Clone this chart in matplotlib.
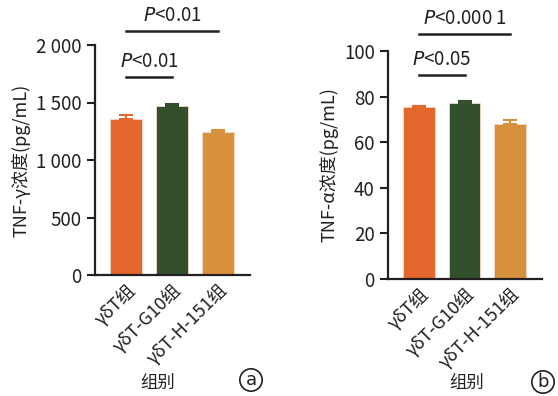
import matplotlib
matplotlib.use("Agg")
import matplotlib.pyplot as plt

plt.rcParams['font.family'] = ['Noto Sans CJK SC', 'DejaVu Sans']
plt.rcParams['mathtext.fontset'] = 'dejavusans'
plt.rcParams['axes.unicode_minus'] = False

groups = ['γδT组', 'γδT-G10组', 'γδT-H-151组']
colors = ['#E4682E', '#33502D', '#D7913C']

ifn_mean = [1355, 1470, 1247]
ifn_err = [33, 20, 16]
tnf_mean = [75.6, 77.4, 68.2]
tnf_err = [0.4, 0.5, 1.7]

txt = '#231F20'

fig = plt.figure(figsize=(5.58, 3.96), dpi=100)
W, H = 558, 396


def panel(rect, mean, err, ylim, yticks, yticklabels, ylabel, brackets, tag, tagpos, xlab_x):
    l, t, w, h = rect
    ax = fig.add_axes([l / W, (H - t - h) / H, w / W, h / H])
    x = range(len(groups))
    ax.bar(x, mean, width=0.70, color=colors, edgecolor='#F6D9C8', linewidth=0.6, zorder=2)
    for i in x:
        ax.errorbar(i, mean[i], yerr=[[0], [err[i]]], color=colors[i],
                    capsize=5, capthick=1.5, elinewidth=1.5, zorder=3)
    ax.set_xlim(-0.68, 2.70)
    ax.set_ylim(*ylim)
    ax.set_yticks(yticks)
    ax.set_yticklabels(yticklabels)
    ax.set_xticks(list(x))
    ax.set_xticklabels(groups, rotation=45, ha='right', rotation_mode='anchor')
    ax.tick_params(axis='y', labelsize=13.5, colors=txt, width=1.5, length=6)
    ax.tick_params(axis='x', labelsize=13, colors=txt, length=0, pad=4)
    for s in ['top', 'right']:
        ax.spines[s].set_visible(False)
    for s in ['left', 'bottom']:
        ax.spines[s].set_linewidth(1.6)
        ax.spines[s].set_color(txt)
    ax.set_ylabel(ylabel, fontsize=13, color=txt, labelpad=4)
    for x0, x1, yb, label in brackets:
        ax.plot([x0, x1], [yb, yb], color=txt, lw=1.8, clip_on=False)
        ax.text((x0 + x1) / 2, yb + (ylim[1] - ylim[0]) * 0.02, label,
                ha='center', va='bottom', fontsize=13.5, color=txt)
    fig.text(xlab_x / W, 1 - 383 / H, '组别', ha='center', va='center', fontsize=12.5, color=txt)
    fig.text(tagpos[0] / W, 1 - tagpos[1] / H, tag, ha='center', va='center', fontsize=13,
             color=txt, family='DejaVu Sans',
             bbox=dict(boxstyle='circle,pad=0.12', fc='white', ec=txt, lw=1.2))
    return ax


panel((95, 45, 155, 230), ifn_mean, ifn_err, (0, 2000),
      [0, 500, 1000, 1500, 2000], ['0', '500', '1 000', '1 500', '2 000'],
      'TNF-γ浓度(pg/mL)',
      [(0, 2, 2124, r'$P$<0.01'), (0, 1, 1724, r'$P$<0.01')],
      'a', (251, 380), 158)

panel((388, 51, 154, 228), tnf_mean, tnf_err, (0, 100),
      [0, 20, 40, 60, 80, 100], ['0', '20', '40', '60', '80', '100'],
      'TNF-α浓度(pg/mL)',
      [(0, 2, 107.5, r'$P$<0.000 1'), (0, 1, 89.5, r'$P$<0.05')],
      'b', (543, 382), 467)

fig.savefig('out.png', dpi=100)
